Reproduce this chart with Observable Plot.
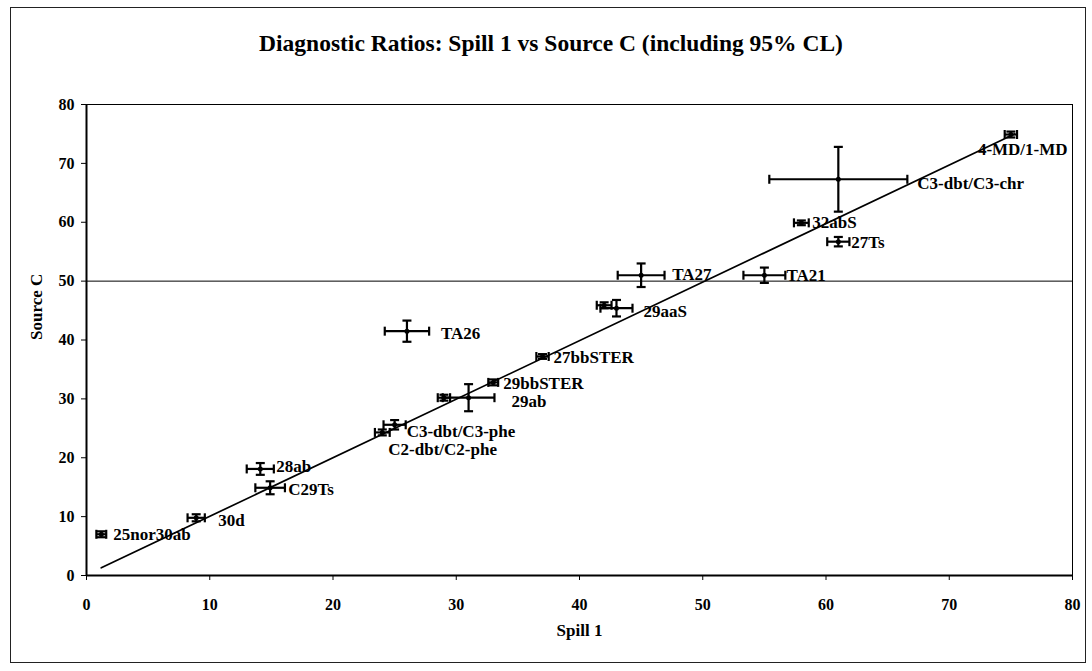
<!DOCTYPE html>
<html>
<head>
<meta charset="utf-8">
<script src="https://cdn.jsdelivr.net/npm/d3@7"></script>
<script src="https://cdn.jsdelivr.net/npm/@observablehq/plot@0.6"></script>
<style>
  body { margin: 0; background: #fff; }
  #wrap { position: relative; width: 1092px; height: 671px; font-family: "Liberation Serif", "DejaVu Serif", serif; }
  #border { position: absolute; left: 10px; top: 7px; width: 1076px; height: 656px; border: 1px solid #222; box-sizing: border-box; }
  #title { position: absolute; top: 30px; left: 0; width: 1102px; text-align: center; font-weight: bold; font-size: 23.5px; color: #000; }
  #chart { position: absolute; top: 75px; left: 0; }
</style>
</head>
<body>
<div id="wrap">
  <div id="border"></div>
  <div id="title">Diagnostic Ratios: Spill 1 vs Source C (including 95% CL)</div>
  <div id="chart"></div>
</div>
<script>
// Data
const names     = ["25nor30ab", "30d", "C29Ts", "28ab", "C2-dbt/C2-phe", "C3-dbt/C3-phe", "29ab", "", "29bbSTER", "27bbSTER", "29aaS", "", "TA26", "TA27", "TA21", "27Ts", "32abS", "C3-dbt/C3-chr", "4-MD/1-MD"];
const spill1    = [1.2, 8.9, 14.9, 14.1, 24.0, 25.0, 31.0, 29.0, 33.0, 37.0, 43.0, 42.0, 26.0, 45.0, 55.0, 61.0, 58.0, 61.0, 75.0];
const sourceC   = [7.0, 9.8, 14.9, 18.1, 24.3, 25.6, 30.2, 30.2, 32.8, 37.2, 45.4, 45.9, 41.5, 51.0, 51.0, 56.7, 59.9, 67.3, 74.9];
const spillCL   = [0.4, 0.7, 1.2, 1.1, 0.6, 0.9, 2.1, 0.5, 0.4, 0.5, 1.3, 0.6, 1.8, 1.9, 1.7, 0.9, 0.6, 5.6, 0.5];
const sourceCL  = [0.5, 0.6, 1.1, 1.0, 0.5, 0.8, 2.3, 0.5, 0.5, 0.4, 1.4, 0.5, 1.8, 2.0, 1.3, 0.8, 0.4, 5.5, 0.5];
const fitX      = [1.2, 75.3];
const fitY      = [1.3, 75.0];
const xTicks    = [0, 10, 20, 30, 40, 50, 60, 70, 80];
const yTicks    = [0, 10, 20, 30, 40, 50, 60, 70, 80];
const refLine   = [50];

// label placement (pixel offsets from each point)
const labelOffsets = [[12, 0], [22, 3], [18, 2], [16, -2], [6, 17], [12, 7], [43, 4], [0, 0], [10, 1], [11, 1], [27, 3], [0, 0], [34, 2], [31, -1], [22, 0], [13, 1], [11, 0], [79, 4], [-33, 15]];

const data = names.map((n, i) => ({name: n, x: spill1[i], y: sourceC[i], xe: spillCL[i], ye: sourceCL[i], off: labelOffsets[i]}));
const fit = fitX.map((x, i) => ({x, y: fitY[i]}));

const vbar = {draw(ctx, size) { const r = Math.sqrt(size / Math.PI); ctx.moveTo(0, -r); ctx.lineTo(0, r); }};
const hbar = {draw(ctx, size) { const r = Math.sqrt(size / Math.PI); ctx.moveTo(-r, 0); ctx.lineTo(r, 0); }};

const labelMarks = data.filter(d => d.name).map(d =>
  Plot.text([d], {x: "x", y: "y", text: "name", dx: d.off[0], dy: d.off[1], textAnchor: "start",
    fontSize: 17, fontWeight: "bold", fill: "#000"})
);

const chart = Plot.plot({
  width: 1092,
  height: 596,
  marginLeft: 86,
  marginRight: 20,
  marginTop: 29,
  marginBottom: 96,
  style: {fontFamily: "Liberation Serif, serif", fontSize: "16px", fontWeight: "bold", background: "transparent", color: "#000"},
  x: {domain: [0, 80]},
  y: {domain: [0, 80]},
  marks: [
    Plot.frame({stroke: "#000", strokeWidth: 1}),
    Plot.ruleY(refLine, {stroke: "#000", strokeWidth: 1}),
    Plot.ruleX([0], {stroke: "#000", strokeWidth: 2}),
    Plot.ruleY([0], {stroke: "#000", strokeWidth: 2}),
    Plot.axisX({ticks: xTicks, tickSize: 5, tickPadding: 18, fontSize: 16, fontWeight: "bold", label: null, stroke: "#000"}),
    Plot.axisY({ticks: yTicks, tickSize: 5, tickPadding: 7, fontSize: 16, fontWeight: "bold", label: null, stroke: "#000"}),
    Plot.line(fit, {x: "x", y: "y", stroke: "#000", strokeWidth: 1.7}),
    Plot.link(data, {x1: d => d.x - d.xe, x2: d => d.x + d.xe, y1: "y", y2: "y", stroke: "#000", strokeWidth: 2.2}),
    Plot.link(data, {x1: "x", x2: "x", y1: d => d.y - d.ye, y2: d => d.y + d.ye, stroke: "#000", strokeWidth: 2.2}),
    Plot.dot(data, {x: d => d.x - d.xe, y: "y", symbol: vbar, r: 4.5, stroke: "#000", strokeWidth: 2.2, fill: "none"}),
    Plot.dot(data, {x: d => d.x + d.xe, y: "y", symbol: vbar, r: 4.5, stroke: "#000", strokeWidth: 2.2, fill: "none"}),
    Plot.dot(data, {x: "x", y: d => d.y - d.ye, symbol: hbar, r: 4.5, stroke: "#000", strokeWidth: 2.2, fill: "none"}),
    Plot.dot(data, {x: "x", y: d => d.y + d.ye, symbol: hbar, r: 4.5, stroke: "#000", strokeWidth: 2.2, fill: "none"}),
    Plot.dot(data, {x: "x", y: "y", r: 2.5, fill: "#000"}),
    ...labelMarks,
    Plot.text(["Spill 1"], {frameAnchor: "bottom", dy: 60, fontSize: 17, fontWeight: "bold", fill: "#000"}),
    Plot.text(["Source C"], {frameAnchor: "left", dx: -50, rotate: -90, fontSize: 17, fontWeight: "bold", fill: "#000"})
  ]
});
document.getElementById("chart").appendChild(chart);
</script>
</body>
</html>
